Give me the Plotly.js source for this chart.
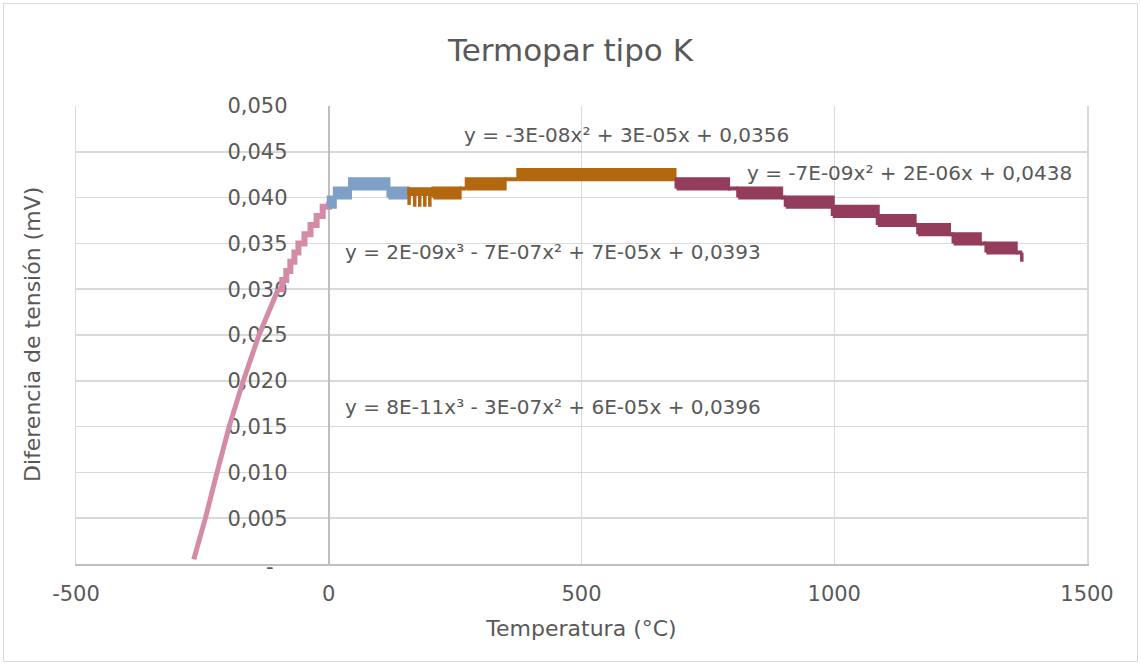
<!DOCTYPE html>
<html>
<head>
<meta charset="utf-8">
<script src="https://cdn.plot.ly/plotly-3.0.1.min.js"></script>
<style>
  html, body { margin: 0; padding: 0; background: #ffffff; }
  #chart { position: absolute; left: 0; top: 0; width: 1141px; height: 666px; }
  #frame { position: absolute; left: 3px; top: 3px; width: 1133px; height: 657px;
           border: 1px solid #d9d9d9; pointer-events: none; }
</style>
</head>
<body>
<div id="chart"></div>
<div id="frame"></div>
<script>
// ---- Data ----
// Pink series (-270..0 °C): smooth lower part
const pinkT = [-267, -244, -221, -197, -169, -138, -100];
const pinkV = [0.0005, 0.005, 0.010, 0.015, 0.020, 0.025, 0.030];
// Pink series: staircase upper part
const pinkStepT = [-100, -92, -84, -76, -68, -60, -48, -36, -24, -12, 0];
const pinkStepV = [0.030, 0.031, 0.032, 0.033, 0.034, 0.035, 0.036, 0.037, 0.038, 0.039, 0.0395];

// Blue series (0..160 °C): bands where values alternate between two levels
const blueStart = [0, 12, 42, 118];
const blueEnd   = [12, 42, 118, 157];
const blueLow   = [0.039, 0.040, 0.041, 0.040];
const blueHigh  = [0.040, 0.041, 0.042, 0.041];

// Orange series (160..690 °C)
const orangeStart = [159, 207, 259, 273, 348, 375];
const orangeEnd   = [207, 259, 273, 348, 375, 684];
const orangeLow   = [0.0404, 0.040, 0.041, 0.041, 0.042, 0.042];
const orangeHigh  = [0.0409, 0.041, 0.041, 0.042, 0.042, 0.043];
const orangeDipT  = [159, 170, 180, 190, 200];
const orangeDipV  = [0.0392, 0.0390, 0.0390, 0.0390, 0.0390];

// Dark red series (690..1372 °C)
const redStart = [688, 790, 810, 895, 904, 997, 1086, 1159, 1166, 1227, 1236, 1288, 1301, 1359];
const redEnd   = [790, 810, 895, 904, 997, 1086, 1159, 1166, 1227, 1236, 1288, 1301, 1359, 1372];
const redLow   = [0.041, 0.041, 0.040, 0.040, 0.039, 0.038, 0.037, 0.037, 0.036, 0.036, 0.035, 0.035, 0.034, 0.034];
const redHigh  = [0.042, 0.041, 0.041, 0.040, 0.040, 0.039, 0.038, 0.037, 0.037, 0.036, 0.036, 0.035, 0.035, 0.034];
const redDipT  = [1371];
const redDipV  = [0.033];

// Axis ticks
const xTickVals = [-500, 0, 500, 1000, 1500];
const xTickText = ['-500', '0', '500', '1000', '1500'];
const yTickVals = [0.005, 0.010, 0.015, 0.020, 0.025, 0.030, 0.035, 0.040, 0.045, 0.050];
const yTickText = ['0,005', '0,010', '0,015', '0,020', '0,025', '0,030', '0,035', '0,040', '0,045', '0,050'];
const yZeroVal = 0;
const yZeroText = '-';

// Trendline equations (as shown)
const equations = [
  'y = -3E-08x² + 3E-05x + 0,0356',
  'y = -7E-09x² + 2E-06x + 0,0438',
  'y = 2E-09x³ - 7E-07x² + 7E-05x + 0,0393',
  'y = 8E-11x³ - 3E-07x² + 6E-05x + 0,0396'
];

// ---- Styling ----
const PINK = '#d48ba5', BLUE = '#7ea0c7', ORANGE = '#b3670f', RED = '#943c5c';
const FONT = 'DejaVu Sans, Liberation Sans, sans-serif';
const GREY = '#595959';

function bandTrace(starts, ends, lows, highs, color) {
  const x = [], y = [];
  for (let i = 0; i < starts.length; i++) {
    x.push(starts[i], ends[i], ends[i], starts[i], starts[i], null);
    y.push(lows[i], lows[i], highs[i], highs[i], lows[i], null);
  }
  return { type: 'scatter', mode: 'lines', x: x, y: y, fill: 'toself',
           fillcolor: color, line: { color: color, width: 4 },
           hoverinfo: 'skip', showlegend: false };
}
function dipTrace(ts, vs, base, color) {
  const x = [], y = [];
  for (let i = 0; i < ts.length; i++) {
    x.push(ts[i], ts[i], null);
    y.push(base, vs[i], null);
  }
  return { type: 'scatter', mode: 'lines', x: x, y: y,
           line: { color: color, width: 3.5 }, hoverinfo: 'skip', showlegend: false };
}

const traces = [
  // empty trace that makes the frame axis (yaxis2) exist
  { type: 'scatter', mode: 'lines', x: [], y: [], yaxis: 'y2', hoverinfo: 'skip', showlegend: false },
  { type: 'scatter', mode: 'lines', x: pinkT, y: pinkV,
    line: { color: PINK, width: 5 }, showlegend: false },
  { type: 'scatter', mode: 'lines', x: pinkStepT, y: pinkStepV,
    line: { color: PINK, width: 6, shape: 'hv' }, showlegend: false },
  bandTrace(blueStart, blueEnd, blueLow, blueHigh, BLUE),
  bandTrace(orangeStart, orangeEnd, orangeLow, orangeHigh, ORANGE),
  dipTrace(orangeDipT, orangeDipV, orangeLow[0], ORANGE),
  bandTrace(redStart, redEnd, redLow, redHigh, RED),
  dipTrace(redDipT, redDipV, redLow[redLow.length - 1], RED)
];

const eqPos = [[0.3818, 0.936], [0.6617, 0.853], [0.2641, 0.681], [0.2641, 0.343]];
const annotations = equations.map((t, i) => ({
  text: t, xref: 'paper', yref: 'paper', x: eqPos[i][0], y: eqPos[i][1],
  xanchor: 'left', yanchor: 'middle', showarrow: false,
  font: { family: FONT, size: 20, color: GREY }
}));
annotations.push({
  text: 'Diferencia de tensión (mV)', xref: 'paper', yref: 'paper',
  x: -0.0435, y: 0.5, xanchor: 'center', yanchor: 'middle', textangle: -90,
  showarrow: false, font: { family: FONT, size: 22, color: GREY }
});
// zero tick label of the value axis (Excel shows a dash)
annotations.push({
  text: yZeroText, xref: 'paper', yref: 'y', x: 0.192, y: yZeroVal, yshift: -3,
  xanchor: 'center', yanchor: 'middle', showarrow: false,
  font: { family: FONT, size: 21, color: GREY }
});

const layout = {
  width: 1141, height: 666,
  margin: { l: 76, r: 54, t: 106, b: 102 },
  paper_bgcolor: '#ffffff', plot_bgcolor: '#ffffff',
  showlegend: false,
  title: { text: 'Termopar tipo K', x: 0.5, xanchor: 'center', y: 0.925, yanchor: 'middle',
           font: { family: FONT, size: 31, color: GREY } },
  xaxis: {
    range: [-500, 1500], tickvals: xTickVals, ticktext: xTickText,
    showgrid: true, gridcolor: '#d9d9d9', gridwidth: 1.5,
    zeroline: false, showline: true, linecolor: '#bfbfbf', linewidth: 1.5,
    ticks: '', ticklabelstandoff: 10,
    tickfont: { family: FONT, size: 21, color: GREY },
    title: { text: 'Temperatura (°C)', standoff: 16, font: { family: FONT, size: 22, color: GREY } },
    fixedrange: true
  },
  yaxis: {
    range: [0, 0.05], tickvals: yTickVals, ticktext: yTickText,
    anchor: 'free', position: 0.25, layer: 'below traces',
    showgrid: true, gridcolor: '#d9d9d9', gridwidth: 1.5,
    zeroline: false, showline: true, linecolor: '#bfbfbf', linewidth: 2,
    ticks: '', ticklabelstandoff: 36,
    tickfont: { family: FONT, size: 21, color: GREY },
    fixedrange: true
  },
  // frame lines of the plot area (left and right edges, in gridline colour)
  yaxis2: {
    overlaying: 'y', anchor: 'x', side: 'left', range: [0, 0.05],
    showgrid: false, zeroline: false, showticklabels: false, ticks: '',
    showline: true, mirror: true, linecolor: '#d9d9d9', linewidth: 1.5,
    layer: 'below traces', fixedrange: true
  },
  annotations: annotations
};

Plotly.newPlot('chart', traces, layout, { displayModeBar: false, staticPlot: true });
</script>
</body>
</html>
